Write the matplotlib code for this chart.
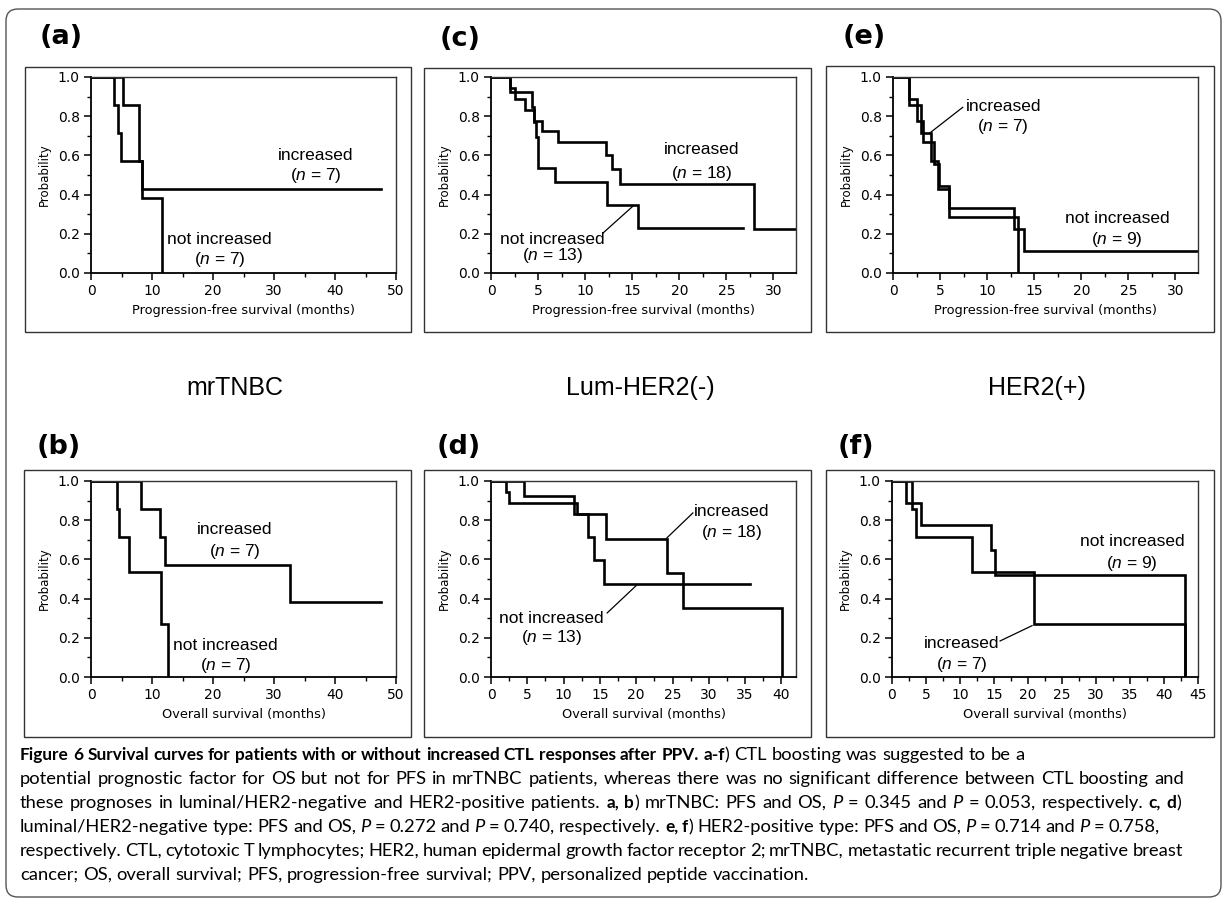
import matplotlib
matplotlib.use("Agg")
import matplotlib.pyplot as plt
from matplotlib.patches import FancyBboxPatch, Rectangle
from matplotlib.ticker import MultipleLocator, FormatStrFormatter

W, H = 1227, 905

# ---- Kaplan-Meier curves (event times in months, survival after each step)
# (a) mrTNBC, PFS
a_inc_t = [5.3, 7.9, 8.4]
a_inc_s = [0.857, 0.571, 0.429]
a_inc_end = 47.6
a_not_t = [3.8, 4.5, 4.9, 8.4, 11.7]
a_not_s = [0.857, 0.714, 0.571, 0.381, 0.0]
a_not_end = 11.7

# (b) mrTNBC, OS
b_inc_t = [8.2, 11.3, 12.2, 32.6]
b_inc_s = [0.857, 0.714, 0.571, 0.381]
b_inc_end = 47.5
b_not_t = [4.3, 4.6, 6.2, 11.5, 12.7]
b_not_s = [0.857, 0.714, 0.536, 0.268, 0.0]
b_not_end = 12.7

# (c) Lum-HER2(-), PFS
c_inc_t = [2.0, 2.6, 3.6, 4.6, 5.4, 7.1, 12.2, 12.9, 13.7, 27.9]
c_inc_s = [0.944, 0.889, 0.833, 0.778, 0.722, 0.667, 0.600, 0.530, 0.455, 0.227]
c_inc_end = 32.4
c_not_t = [2.0, 4.4, 4.6, 4.8, 5.0, 6.8, 12.3, 15.6]
c_not_s = [0.923, 0.846, 0.769, 0.692, 0.538, 0.462, 0.346, 0.231]
c_not_end = 26.8

# (d) Lum-HER2(-), OS
d_inc_t = [2.1, 2.5, 11.8, 15.9, 24.2, 26.4, 40.1]
d_inc_s = [0.944, 0.889, 0.833, 0.706, 0.529, 0.353, 0.0]
d_inc_end = 40.1
d_not_t = [4.5, 11.4, 13.4, 14.2, 15.5]
d_not_s = [0.923, 0.833, 0.714, 0.595, 0.476]
d_not_end = 35.6

# (e) HER2(+), PFS
e_inc_t = [1.7, 3.0, 4.0, 4.8, 5.9, 13.3]
e_inc_s = [0.857, 0.714, 0.571, 0.429, 0.286, 0.0]
e_inc_end = 13.3
e_not_t = [1.7, 2.5, 3.2, 4.4, 4.9, 5.9, 12.9, 13.9]
e_not_s = [0.889, 0.778, 0.667, 0.556, 0.444, 0.333, 0.222, 0.111]
e_not_end = 32.4

# (f) HER2(+), OS
f_inc_t = [2.9, 3.6, 11.8, 20.9, 43.1]
f_inc_s = [0.857, 0.714, 0.536, 0.268, 0.0]
f_inc_end = 43.1
f_not_t = [2.0, 4.3, 14.5, 15.1, 43.1]
f_not_s = [0.889, 0.778, 0.648, 0.518, 0.0]
f_not_end = 43.1

group_names = ["mrTNBC", "Lum-HER2(-)", "HER2(+)"]
pfs_label = "Progression-free survival (months)"
os_label = "Overall survival (months)"

caption_lines = [
    [("Figure 6 Survival curves for patients with or without increased CTL responses after PPV. a-f", "b"),
     (") CTL boosting was suggested to be a", "r")],
    [("potential prognostic factor for OS but not for PFS in mrTNBC patients, whereas there was no significant difference between CTL boosting and", "r")],
    [("these prognoses in luminal/HER2-negative and HER2-positive patients. ", "r"), ("a, b", "b"),
     (") mrTNBC: PFS and OS, ", "r"), ("P", "i"), (" = 0.345 and ", "r"), ("P", "i"),
     (" = 0.053, respectively. ", "r"), ("c, d", "b"), (")", "r")],
    [("luminal/HER2-negative type: PFS and OS, ", "r"), ("P", "i"), (" = 0.272 and ", "r"), ("P", "i"),
     (" = 0.740, respectively. ", "r"), ("e, f", "b"), (") HER2-positive type: PFS and OS, ", "r"),
     ("P", "i"), (" = 0.714 and ", "r"), ("P", "i"), (" = 0.758,", "r")],
    [("respectively. CTL, cytotoxic T lymphocytes; HER2, human epidermal growth factor receptor 2; mrTNBC, metastatic recurrent triple negative breast", "r")],
    [("cancer; OS, overall survival; PFS, progression-free survival; PPV, personalized peptide vaccination.", "r")],
]
# right edge of each caption line (None = ragged)
caption_ends = [None, 1184, 1181, 1160, 1183, None]

plt.rcParams['mathtext.fontset'] = 'custom'
plt.rcParams['mathtext.rm'] = 'Liberation Sans'
plt.rcParams['mathtext.it'] = 'Liberation Sans:italic'

fig = plt.figure(figsize=(W / 100, H / 100), dpi=100)
fig.patch.set_facecolor('white')

# overlay axes in pixel coordinates for frames and free text
ov = fig.add_axes([0, 0, 1, 1], zorder=0)
ov.set_xlim(0, W)
ov.set_ylim(H, 0)
ov.axis('off')
ov.patch.set_alpha(0)

ov.add_patch(FancyBboxPatch((6, 9), 1215, 888, boxstyle="round,pad=0,rounding_size=12",
                            fill=False, ec='#555555', lw=1.0))
for bx, by, bw, bh in [(25, 67, 386, 265), (424, 68, 387, 264), (826, 66, 388, 266),
                       (24, 470, 387, 267), (424, 470, 387, 267), (826, 470, 388, 267)]:
    ov.add_patch(Rectangle((bx, by), bw, bh, fill=False, ec='#333333', lw=1.0))


def add_panel(x0, y0, x1, y1):
    return fig.add_axes([x0 / W, 1 - y1 / H, (x1 - x0) / W, (y1 - y0) / H], zorder=2)


def km(ax, t, s, end):
    xs = [0] + t + [end]
    ys = [1.0] + s + [s[-1]]
    ax.step(xs, ys, where='post', color='black', lw=1.9, solid_joinstyle='miter')


def style(ax, xmax, major, xlabel):
    ax.set_xlim(0, xmax)
    ax.set_ylim(0, 1.0)
    ax.xaxis.set_major_locator(MultipleLocator(major))
    ax.xaxis.set_minor_locator(MultipleLocator(major / 2))
    ax.yaxis.set_major_locator(MultipleLocator(0.2))
    ax.yaxis.set_minor_locator(MultipleLocator(0.1))
    ax.yaxis.set_major_formatter(FormatStrFormatter('%.1f'))
    ax.tick_params(which='major', direction='out', length=5, width=1.1, labelsize=10, pad=3)
    ax.tick_params(which='minor', direction='out', length=3, width=1.0)
    for lab in ax.get_xticklabels() + ax.get_yticklabels():
        lab.set_family('DejaVu Sans')
    for side in ['left', 'bottom']:
        ax.spines[side].set_linewidth(1.3)
    for side in ['top', 'right']:
        ax.spines[side].set_linewidth(1.0)
        ax.spines[side].set_color('#333333')
    ax.set_ylabel("Probability", fontsize=8.5, family='DejaVu Sans', labelpad=5)
    ax.set_xlabel(xlabel, fontsize=9.3, family='DejaVu Sans', labelpad=4)


def label(ax, x, y1, y2, word, n):
    ax.text(x, y1, word, ha='center', va='center', fontsize=12.5, family='Liberation Sans')
    ax.text(x, y2, r"($n$ = %d)" % n, ha='center', va='center', fontsize=12.5, family='Liberation Sans')


def pointer(ax, xa, ya, xb, yb):
    ax.plot([xa, xb], [ya, yb], color='black', lw=0.9)


# (a)
ax = add_panel(91, 77, 396, 273)
km(ax, a_inc_t, a_inc_s, a_inc_end)
km(ax, a_not_t, a_not_s, a_not_end)
style(ax, 50, 10, pfs_label)
label(ax, 36.9, 0.60, 0.495, "increased", 7)
label(ax, 21.1, 0.173, 0.071, "not increased", 7)

# (c)
ax = add_panel(491, 77, 796, 273)
km(ax, c_inc_t, c_inc_s, c_inc_end)
km(ax, c_not_t, c_not_s, c_not_end)
style(ax, 32.4, 5, pfs_label)
label(ax, 22.4, 0.628, 0.51, "increased", 18)
label(ax, 6.5, 0.173, 0.087, "not increased", 13)
pointer(ax, 11.9, 0.204, 15.1, 0.342)

# (e)
ax = add_panel(893, 77, 1198, 273)
km(ax, e_inc_t, e_inc_s, e_inc_end)
km(ax, e_not_t, e_not_s, e_not_end)
style(ax, 32.4, 5, pfs_label)
label(ax, 11.7, 0.847, 0.745, "increased", 7)
label(ax, 23.8, 0.28, 0.173, "not increased", 9)
pointer(ax, 7.4, 0.845, 3.9, 0.714)

# (b)
ax = add_panel(91, 481, 396, 677)
km(ax, b_inc_t, b_inc_s, b_inc_end)
km(ax, b_not_t, b_not_s, b_not_end)
style(ax, 50, 10, os_label)
label(ax, 23.6, 0.75, 0.638, "increased", 7)
label(ax, 22.1, 0.163, 0.061, "not increased", 7)

# (d)
ax = add_panel(491, 481, 796, 677)
km(ax, d_inc_t, d_inc_s, d_inc_end)
km(ax, d_not_t, d_not_s, d_not_end)
style(ax, 42, 5, os_label)
label(ax, 33.2, 0.842, 0.735, "increased", 18)
label(ax, 8.3, 0.30, 0.20, "not increased", 13)
pointer(ax, 27.8, 0.837, 24.2, 0.709)
pointer(ax, 16.0, 0.327, 20.1, 0.47)

# (f)
ax = add_panel(892, 481, 1198, 677)
km(ax, f_inc_t, f_inc_s, f_inc_end)
km(ax, f_not_t, f_not_s, f_not_end)
style(ax, 45, 5, os_label)
label(ax, 35.3, 0.689, 0.58, "not increased", 9)
label(ax, 10.3, 0.173, 0.066, "increased", 7)
pointer(ax, 15.9, 0.184, 20.6, 0.262)

# panel letters
for txt, px, py in [("(a)", 40, 37), ("(c)", 440, 39), ("(e)", 843, 37),
                    ("(b)", 37, 447), ("(d)", 437, 447), ("(f)", 838, 447)]:
    ov.text(px, py, txt, ha='left', va='center', fontsize=19.5, fontweight='bold', family='DejaVu Sans')

# group labels
for name, px in zip(group_names, [235, 640, 1037]):
    ov.text(px, 388, name, ha='center', va='center', fontsize=18, family='Liberation Sans')

# caption: words placed one by one so mixed styles line up and lines can be justified
renderer = fig.canvas.get_renderer()
cap_font = 'Lato'
props = {'r': dict(fontweight='normal', fontstyle='normal', fontsize=13.2),
         'b': dict(fontweight='bold', fontstyle='normal', fontsize=12.4),
         'i': dict(fontweight='normal', fontstyle='italic', fontsize=13.2)}


def text_width(s, st):
    t = ov.text(0, 0, s, family=cap_font, **props[st])
    w = t.get_window_extent(renderer).width
    t.remove()
    return w


space_w = {k: text_width("n n", k) - text_width("nn", k) for k in props}

for i, line in enumerate(caption_lines):
    y = 760 + 24 * i
    items = []
    for s, st in line:
        parts = s.split(' ')
        for j, p in enumerate(parts):
            if j > 0:
                items.append((None, st))
            if p:
                items.append((p, st))
    placed = []
    total = 0.0
    n_sp = 0
    for p, st in items:
        if p is None:
            total += space_w[st]
            n_sp += 1
            placed.append(None)
        else:
            t = ov.text(0, y, p, family=cap_font, va='baseline', ha='left', **props[st])
            w = t.get_window_extent(renderer).width
            total += w
            placed.append((t, w))
    extra = 0.0
    if caption_ends[i] is not None and n_sp:
        extra = (caption_ends[i] - 20 - total) / n_sp
    x = 20.0
    for (p, st), art in zip(items, placed):
        if art is None:
            x += space_w[st] + extra
        else:
            art[0].set_x(x)
            x += art[1]

fig.savefig("out.png", dpi=100)
